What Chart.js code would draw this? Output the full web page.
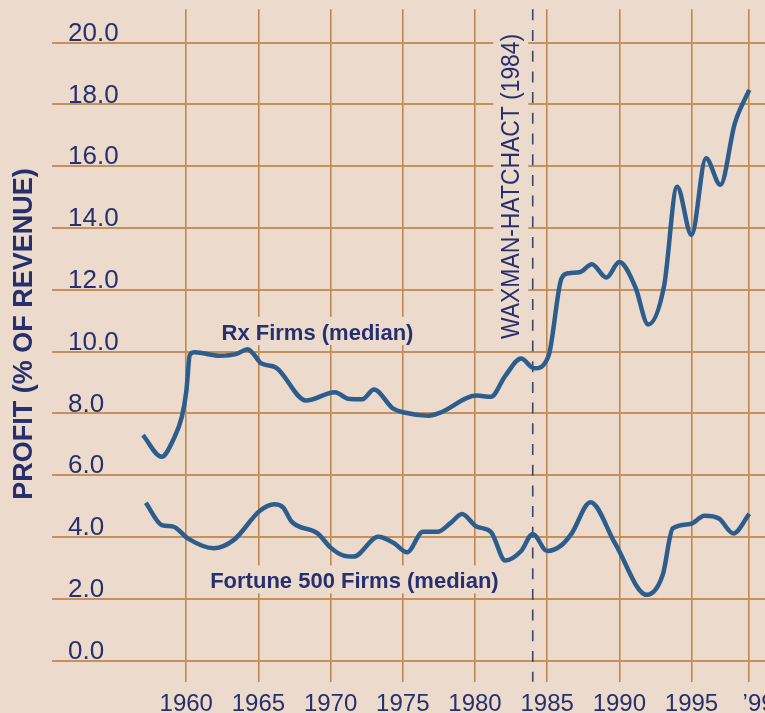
<!DOCTYPE html>
<html>
<head>
<meta charset="utf-8">
<script src="https://cdn.jsdelivr.net/npm/chart.js@4.4.1/dist/chart.umd.min.js"></script>
<style>
html,body{margin:0;padding:0;background:#ecdbcc;}
canvas{display:block;}
</style>
</head>
<body>
<canvas id="c" width="765" height="713"></canvas>
<script>
// ---- data ----
const rxYears = [1957.0,1958.3,1959.1,1959.7,1960.0,1960.25,1960.6,1962.3,1963.5,1964.25,1964.65,1965.2,1966.2,1968.3,1970.3,1971.2,1972.2,1973.0,1974.3,1975.1,1976.8,1977.6,1980.1,1981.1,1982.1,1983.2,1984.1,1985.1,1986.0,1986.5,1987.3,1988.1,1989.1,1990.0,1991.1,1992.0,1993.1,1994.0,1995.0,1996.0,1997.0,1998.0,1999.0];
const rxValues = [7.30,6.60,7.15,7.90,8.70,9.90,9.98,9.87,9.93,10.08,9.93,9.62,9.49,8.42,8.69,8.48,8.46,8.78,8.17,8.03,7.93,8.03,8.58,8.54,9.22,9.78,9.46,9.87,12.38,12.54,12.58,12.83,12.40,12.90,12.10,10.88,12.13,15.34,13.78,16.26,15.40,17.39,18.47];

const f500Years = [1957.2,1958.3,1959.1,1960.1,1961.9,1963.3,1965.1,1966.1,1966.7,1967.3,1969.1,1970.0,1970.9,1971.6,1973.3,1974.4,1975.3,1976.4,1977.4,1978.3,1979.1,1980.1,1981.1,1982.1,1983.2,1984.0,1985.0,1986.0,1986.7,1988.0,1989.7,1991.9,1993.0,1993.7,1994.9,1995.9,1996.9,1997.9,1999.0];
const f500Values = [5.11,4.39,4.34,3.96,3.64,3.91,4.85,5.06,4.96,4.50,4.12,3.66,3.40,3.37,4.01,3.80,3.51,4.17,4.17,4.45,4.75,4.34,4.17,3.24,3.55,4.10,3.55,3.74,4.12,5.13,3.80,2.13,2.77,4.28,4.42,4.69,4.60,4.12,4.75];

const xTickYears  = [1960,1965,1970,1975,1980,1985,1990,1995,1999];
const xTickLabels = ['1960','1965','1970','1975','1980','1985','1990','1995','\u2002 \u201999'];
const yTickValues = [0,2,4,6,8,10,12,14,16,18,20];
const yTickLabels = ['0.0','2.0','4.0','6.0','8.0','10.0','12.0','14.0','16.0','18.0','20.0'];

const seriesNames = ['Rx Firms (median)','Fortune 500 Firms (median)'];
const eventYear = 1984;
const eventLabel = 'WAXMAN-HATCHACT (1984)';
const yTitle = 'PROFIT (% OF REVENUE)';

// ---- styling / placement ----
const BG = '#ecdbcc';
const NAVY = '#27306e';
const LINE = '#2c5d8d';
const GRID_H = '#c4905c';
const GRID_V = '#bf8850';
const FONT = '"Liberation Sans", Arial, Helvetica, sans-serif';

const labelPos = {
  rx:   {x: 1969.09, y: 10.38},
  f500: {x: 1971.65, y: 2.34},
  event:{x: 1983.07, y: 15.35}
};

const decor = {
  id: 'decor',
  beforeDraw(chart) {
    const c = chart.ctx;
    c.save();
    c.fillStyle = BG;
    c.fillRect(0, 0, chart.width, chart.height);
    c.restore();
  },
  beforeDatasetsDraw(chart) {
    const c = chart.ctx, area = chart.chartArea, xs = chart.scales.x, ys = chart.scales.y;
    c.save();
    c.font = 'bold 22px ' + FONT;
    c.textAlign = 'center';
    c.textBaseline = 'alphabetic';
    [[labelPos.rx, seriesNames[0]], [labelPos.f500, seriesNames[1]]].forEach(([p, t]) => {
      const px = xs.getPixelForValue(p.x), py = ys.getPixelForValue(p.y);
      const w = c.measureText(t).width;
      c.fillStyle = BG;
      c.fillRect(px - w / 2 - 4, py - 23, w + 8, 28);
      c.fillStyle = NAVY;
      c.fillText(t, px, py);
    });
    const ex = xs.getPixelForValue(labelPos.event.x), ey = ys.getPixelForValue(labelPos.event.y);
    c.save();
    c.translate(ex, ey);
    c.rotate(-Math.PI / 2);
    c.scale(0.88, 1);
    c.font = '26px ' + FONT;
    const ew = c.measureText(eventLabel).width;
    c.fillStyle = BG;
    c.fillRect(-ew / 2 - 5, -26, ew + 10, 35);
    c.fillStyle = NAVY;
    c.fillText(eventLabel, 0, 0);
    c.restore();
    const dx = xs.getPixelForValue(eventYear);
    c.strokeStyle = '#3d4466';
    c.lineWidth = 1.6;
    c.setLineDash([11, 9.7]);
    c.beginPath();
    c.moveTo(dx, area.top);
    c.lineTo(dx, area.bottom);
    c.stroke();
    c.restore();
  },
  afterDraw(chart) {
    const c = chart.ctx;
    c.save();
    c.translate(24.5, 334);
    c.rotate(-Math.PI / 2);
    c.font = 'bold 27px ' + FONT;
    c.fillStyle = NAVY;
    c.textAlign = 'center';
    c.textBaseline = 'middle';
    c.fillText(yTitle, 0, 0);
    c.restore();
  }
};

const toPoints = (xs, ys) => xs.map((x, i) => ({x: x, y: ys[i]}));

new Chart(document.getElementById('c'), {
  type: 'line',
  data: {
    datasets: [
      {label: seriesNames[0], data: toPoints(rxYears, rxValues)},
      {label: seriesNames[1], data: toPoints(f500Years, f500Values)}
    ]
  },
  options: {
    responsive: false,
    animation: false,
    devicePixelRatio: 1,
    layout: {autoPadding: false, padding: {top: 9.3, left: 0, right: 0, bottom: 0}},
    elements: {
      line: {borderColor: LINE, borderWidth: 4.5, cubicInterpolationMode: 'monotone', borderCapStyle: 'butt', borderJoinStyle: 'round'},
      point: {radius: 0, hoverRadius: 0}
    },
    plugins: {legend: {display: false}, tooltip: {enabled: false}},
    scales: {
      x: {
        type: 'linear',
        min: 1950.7,
        max: 2000.09,
        afterBuildTicks: s => { s.ticks = xTickYears.map(v => ({value: v})); },
        afterFit: s => { s.height = 31.3; s.paddingLeft = 0; s.paddingRight = 0; s.paddingTop = 0; s.paddingBottom = 0; },
        border: {display: false},
        grid: {color: GRID_V, lineWidth: 1.6, drawTicks: false},
        ticks: {
          autoSkip: false, maxRotation: 0, minRotation: 0,
          padding: 8,
          color: NAVY,
          font: {family: FONT, size: 24},
          callback: v => xTickLabels[xTickYears.indexOf(v)]
        }
      },
      y: {
        type: 'linear',
        min: -0.68,
        max: 21.08,
        afterBuildTicks: s => { s.ticks = yTickValues.map(v => ({value: v})); },
        afterFit: s => { s.width = 52; s.paddingTop = 0; s.paddingBottom = 0; s.paddingLeft = 0; s.paddingRight = 0; },
        border: {display: false},
        grid: {color: GRID_H, lineWidth: 2, drawTicks: false},
        ticks: {
          autoSkip: false,
          mirror: true,
          padding: 16,
          labelOffset: -9,
          color: NAVY,
          font: {family: FONT, size: 26},
          callback: v => yTickLabels[yTickValues.indexOf(v)]
        }
      }
    }
  },
  plugins: [decor]
});
</script>
</body>
</html>
